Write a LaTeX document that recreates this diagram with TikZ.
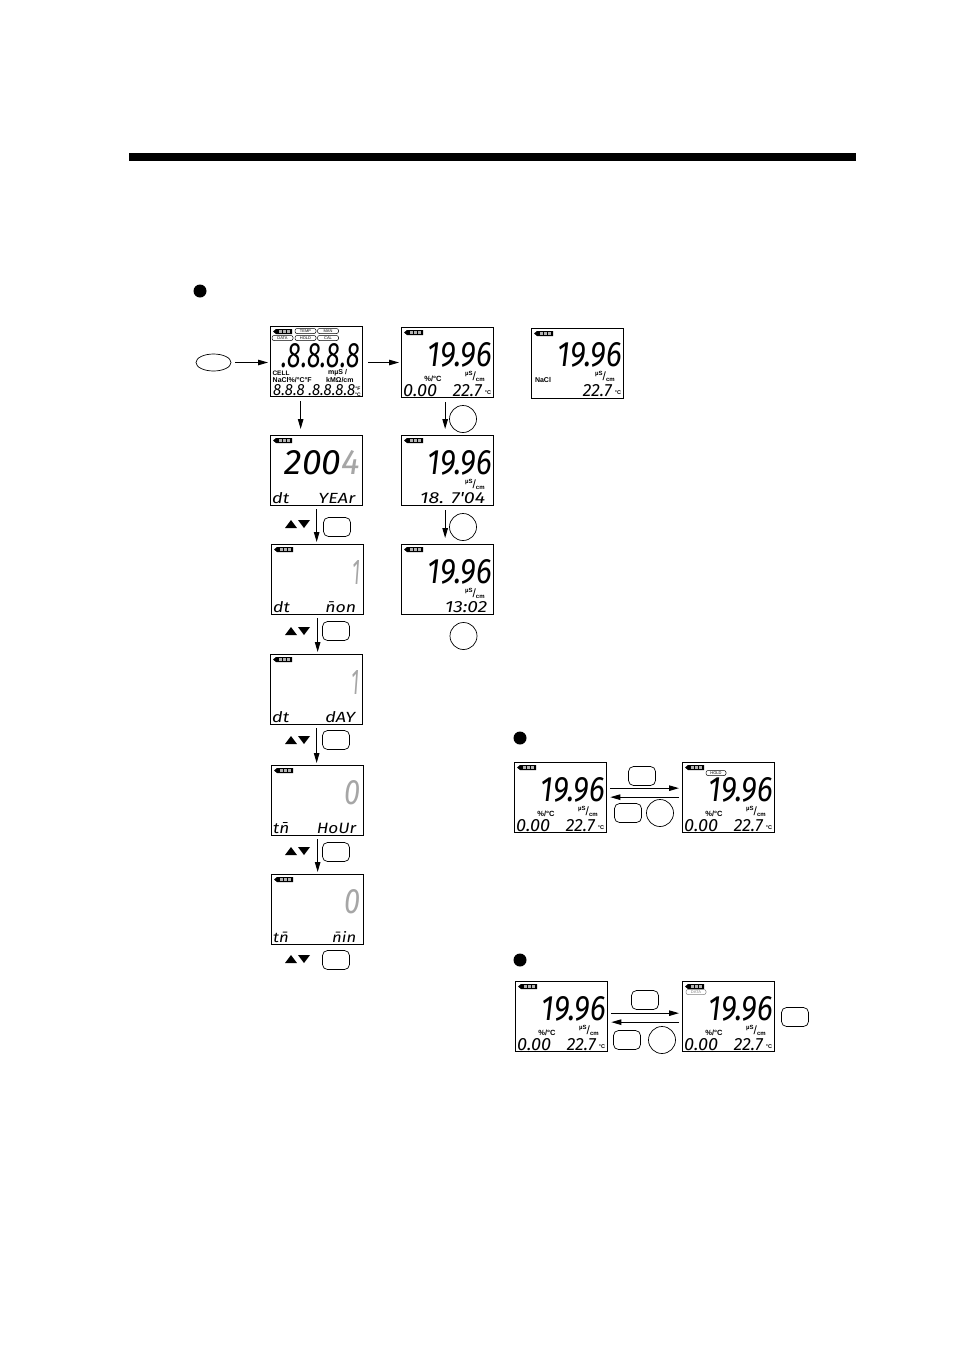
\documentclass[tikz,border=0pt]{standalone}
\usepackage{graphicx}
\usepackage{fontspec}
\usetikzlibrary{arrows.meta,shapes.geometric}
\setmainfont{Liberation Sans}
\newfontfamily\segfont{Fira Sans}
\tikzset{
 lcdbox/.style={draw,line width=1.3pt,minimum width=92pt,minimum height=70pt,inner sep=0pt,anchor=north west},
 seg/.style={inner sep=0pt,font=\segfont\itshape},
 tag/.style={inner sep=0pt,font=\fontsize{7}{7}\selectfont\bfseries},
 smalltag/.style={inner sep=0pt,font=\fontsize{6}{6}\selectfont\bfseries},
 pill/.style={draw,line width=0.5pt,rounded corners=2pt,minimum width=21pt,minimum height=5pt,inner sep=0pt,font=\fontsize{4}{4}\selectfont},
 keyround/.style={draw,line width=0.7pt,circle,minimum size=27pt,inner sep=0pt},
 keyflat/.style={draw,line width=0.7pt,rounded corners=5pt,minimum width=27pt,minimum height=19pt,inner sep=0pt},
 flow/.style={-{Triangle[length=10pt,width=5.5pt]},line width=1pt},
}
% screen frame with its battery icon
\def\lcdframe#1#2#3{
 \node[lcdbox] (#1) at (#2,#3) {};
 \fill (#2+3,#3+5.5) -- (#2+6,#3+3) -- (#2+22,#3+3) -- (#2+22,#3+8) -- (#2+6,#3+8) -- cycle;
 \foreach \s in {9,13,17}
  \fill[gray!60] (#2+\s,#3+4.3) rectangle (#2+\s+2.5,#3+6.7);
}
% large reading, right edge at x+91
\def\bigread#1#2#3{\node[seg,anchor=east] (#1-big) at (#2+91,#3+28) {\resizebox{64pt}{24pt}{19.96}};}
% conductivity unit
\def\unit#1#2#3{
 \node[smalltag,anchor=base west] (#1-us) at (#2+64,#3+51.5) {\raisebox{3pt}{µS}\raisebox{-1.5pt}{\fontsize{12}{12}\selectfont\mdseries /}\raisebox{-3pt}{cm}};
}
% temperature at lower right
\def\tempread#1#2#3{
 \node[seg,anchor=east] (#1-tmp) at (#2+81,#3+63.5) {\resizebox{29pt}{12pt}{22.7}};
 \node[smalltag,font=\fontsize{5.5}{5.5}\selectfont\bfseries] (#1-deg) at (#2+87,#3+65.5) {°C};
}
% coefficient at lower left
\def\coefread#1#2#3{
 \node[tag,font=\fontsize{7.5}{7.5}\selectfont\bfseries] (#1-pc) at (#2+32,#3+52) {\%/°C};
 \node[seg,anchor=west] (#1-co) at (#2+2,#3+63.5) {\resizebox{34pt}{12pt}{0.00}};
}
\begin{document}
\begin{tikzpicture}[x=1pt,y=-1pt]
 \useasboundingbox (0,0) rectangle (954,1352);
 \fill (129,153) rectangle (856,161);
 \foreach \n/\x/\y in {dot1/200/291,dot2/520/738,dot3/520/960}
  \fill (\x,\y) circle (6.5);
 % all segments test screen
 \lcdframe{init}{270}{326}
 \foreach \n/\x/\y/\t in {temp/305.5/331/TEMP,man/328/331/MAN,data/282.5/338/DATA,hold/305.5/338/HOLD,cal/328/338/CAL}
  \node[pill] (\n) at (\x,\y) {\t};
 \node[seg,anchor=east] (init-big) at (360,355.5) {\resizebox{78pt}{24pt}{.8.8.8.8}};
 \node[smalltag,font=\fontsize{6.5}{6.5}\selectfont\bfseries] (init-cell) at (281,373.5) {CELL};
 \node[tag,anchor=west] (init-nacl) at (272.5,380.5) {NaCl\%/°C°F};
 \node[tag,anchor=west] (init-mus) at (328,373) {mµS /};
 \node[tag,anchor=west] (init-kmo) at (326,380.5) {kMΩ/cm};
 \node[seg,anchor=west] (init-low) at (273,390.5) {\resizebox{82pt}{11pt}{8.8.8\hspace{0.25em}.8.8.8.8}};
 \node[smalltag,font=\fontsize{5}{5}\selectfont\bfseries] (init-f) at (358,388.5) {°F};
 \node[smalltag,font=\fontsize{5}{5}\selectfont\bfseries] (init-c) at (358,394.5) {°C};
 % setting screens
 \foreach \n/\x/\y/\w/\d/\t/\f in {%
  year/270/435/75/200\textcolor{gray!70}{4}/{dt\hspace{1.6em}YEAr}/83,
  mon/271/544/8/\textcolor{gray!70}{1}/{dt\hspace{2em}\=non}/83,
  day/270/654/8/\textcolor{gray!70}{1}/{dt\hspace{2em}dAY}/83,
  hour/271/765/16/\textcolor{gray!70}{0}/{t\=n\hspace{1.6em}HoUr}/83,
  min/271/874/16/\textcolor{gray!70}{0}/{t\=n\hspace{2.6em}\=nin}/83}
 {
  \lcdframe{\n}{\x}{\y}
  \node[seg,anchor=east] (\n-big) at (\x+90,\y+28) {\resizebox{\w pt}{24pt}{\d}};
  \node[seg,anchor=west] (\n-low) at (\x+2,\y+63.5) {\resizebox{\f pt}{11pt}{\t}};
 }
 % reading screens
 \foreach \n/\x/\y in {read/401/327,coef/514/762,held/682/762,plain/515/981,kept/682/981}
 {
  \lcdframe{\n}{\x}{\y}
  \bigread{\n}{\x}{\y}
  \unit{\n}{\x}{\y}
  \tempread{\n}{\x}{\y}
  \coefread{\n}{\x}{\y}
 }
 \foreach \n/\x/\y/\w/\l/\t in {date/401/435/65/19/{18. 7'04},clock/401/544/42/44/{13:02}}
 {
  \lcdframe{\n}{\x}{\y}
  \bigread{\n}{\x}{\y}
  \unit{\n}{\x}{\y}
  \node[seg,anchor=west] (\n-low) at (\x+\l,\y+63.5) {\resizebox{\w pt}{11pt}{\t}};
 }
 \lcdframe{salt}{531}{328}
 \bigread{salt}{531}{327}
 \unit{salt}{531}{327}
 \tempread{salt}{531}{327}
 \node[tag] (salt-nacl) at (543,380) {NaCl};
 \node[pill,minimum width=20pt] (held-hold) at (716,773) {HOLD};
 \node[pill,minimum width=20pt,draw=gray,text=gray] (kept-data) at (696,992) {DATA};
 % keys
 \node[draw,line width=0.7pt,ellipse,minimum width=35pt,minimum height=17pt,inner sep=0pt] (power) at (213.5,362.5) {};
 \foreach \n/\x/\y in {r1/463/419,r2/463/527,r3/463.5/636,r4/660/813,r5/662/1040}
  \node[keyround] (\n) at (\x,\y) {};
 \foreach \n/\x/\y in {f1/337/527,f2/336/631,f3/336/740,f4/336/852,f5/336/960,f6/642/776,f7/628/813,f8/645/1000,f9/627/1040,f10/795/1017}
  \node[keyflat] (\n) at (\x,\y) {};
 % up and down marks
 \foreach \y in {524,631,740,851,959}
 {
  \fill (285,\y+4) -- (291,\y-4) -- (297,\y+4) -- cycle;
  \fill (298,\y-4) -- (310,\y-4) -- (304,\y+4) -- cycle;
 }
 % arrows
 \draw[flow,shorten <=4pt,shorten >=2pt] (power.east) -- (power -| init.west);
 \draw[flow,shorten <=5pt,shorten >=2pt] (init.east |- power) -- (read.west |- power);
 \draw[flow,shorten <=4pt,shorten >=6pt] ([xshift=-16pt]init.south) -- ([xshift=-16pt]year.north);
 \foreach \a/\b in {year/mon,mon/day,day/hour,hour/min}
  \draw[flow,shorten <=3pt,shorten >=2pt] (\a.south) -- (\a.south |- \b.north);
 \draw[flow,shorten <=4pt,shorten >=6pt] ([xshift=-2.5pt]read.south) -- ([xshift=-2.5pt]date.north);
 \draw[flow,shorten <=4pt,shorten >=6pt] ([xshift=-2.5pt]date.south) -- ([xshift=-2.5pt]clock.north);
 \draw[flow,shorten <=3pt,shorten >=3pt] ([yshift=9.5pt]coef.east) -- ([yshift=9.5pt]held.west);
 \draw[flow,shorten <=3pt,shorten >=3pt] ([yshift=0.5pt]held.west) -- ([yshift=0.5pt]coef.east);
 \draw[flow,shorten <=3pt,shorten >=3pt] ([yshift=3.5pt]plain.east) -- ([yshift=3.5pt]kept.west);
 \draw[flow,shorten <=3pt,shorten >=3pt] ([yshift=-5.5pt]kept.west) -- ([yshift=-5.5pt]plain.east);
\end{tikzpicture}
\end{document}
